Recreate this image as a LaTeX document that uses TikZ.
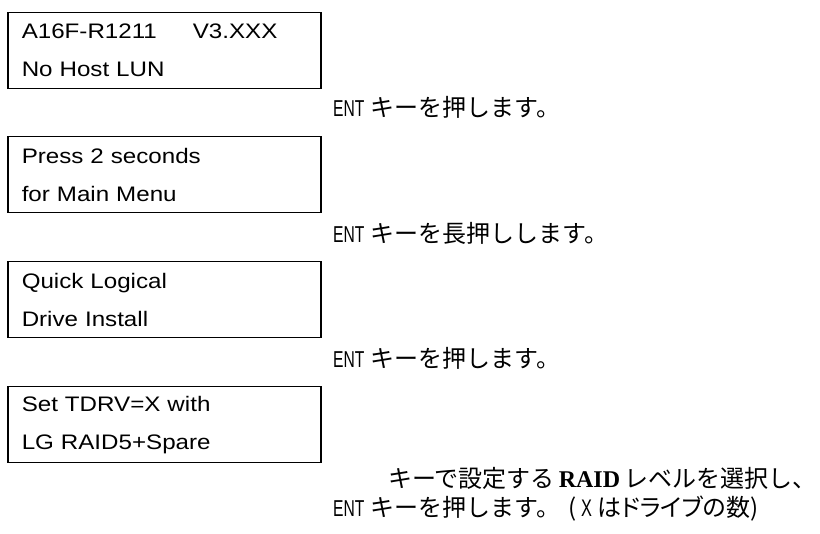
\documentclass[tikz,border=0pt]{standalone}
\usepackage{fontspec}
\usetikzlibrary{positioning}
\newfontfamily\lcdfont[FakeStretch=1.15]{Liberation Sans}
\newfontfamily\entfont[FakeStretch=0.68]{Liberation Sans}
\newfontfamily\jafont{Noto Sans CJK JP}
\newfontfamily\raidfont{Liberation Serif}
\newcommand{\ENTkey}{{\entfont\fontsize{23}{25}\selectfont ENT}}
\newcommand{\RAIDword}{{\raidfont\bfseries RAID}}

\begin{document}
\begin{tikzpicture}[x=1pt, y=-1pt,
    lcdbox/.style={draw, line width=1.5pt, anchor=north west, text width=285pt, inner xsep=14pt,
        minimum height=76pt, align=left, font=\lcdfont\fontsize{21}{38}\selectfont},
    note/.style={anchor=west, inner sep=0pt, font=\jafont\fontsize{24}{30}\selectfont}]
    \useasboundingbox (0,0) rectangle (820,534);

    % LCD screens
    \node (lcd1) at (7,12) [lcdbox] {A16F-R1211\hspace{36pt}V3.XXX\\No Host LUN};
    \node (lcd2) at (7,136) [lcdbox] {Press 2 seconds\\for Main Menu};
    \node (lcd3) at (7,261) [lcdbox] {Quick Logical\\Drive Install};
    \node (lcd4) at (7,386) [lcdbox] {Set TDRV=X with\\LG RAID5+Spare};

    % key operations
    \node (op1) at (333,107) [note] {\ENTkey\hspace{6pt}キーを押します。};
    \node (op2) at (333,233) [note] {\ENTkey\hspace{6pt}キーを長押しします。};
    \node (op3) at (333,358) [note] {\ENTkey\hspace{6pt}キーを押します。};
    \node (op4) at (388,478) [note] {キーで設定する\hspace{4pt}\RAIDword\hspace{4pt}レベルを選択し、};
    \node (op5) at (333,509) [note] {\ENTkey\hspace{6pt}キーを押します。\hspace{8pt}(\hspace{5pt}{\entfont X}\hspace{5pt}{\addfontfeature{RawFeature=+palt}はドライブの数})};
\end{tikzpicture}
\end{document}
